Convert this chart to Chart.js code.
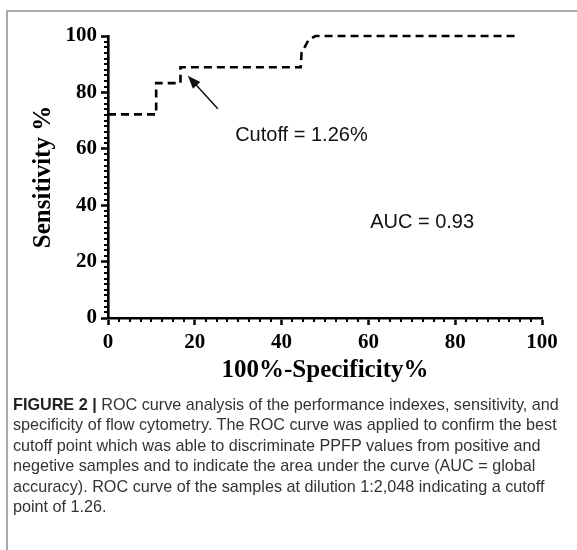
<!DOCTYPE html>
<html>
<head>
<meta charset="utf-8">
<script src="https://cdn.jsdelivr.net/npm/chart.js@4.4.1/dist/chart.umd.min.js"></script>
<style>
    body { margin: 0; background: #fff; width: 577px; height: 550px; overflow: hidden; position: relative; }
    #frame { position: absolute; left: 6px; top: 10px; width: 600px; height: 600px; border: 2px solid #aaa; box-sizing: border-box; }
    #rocChart { position: absolute; left: 0; top: 0; }
    #caption { position: absolute; left: 13px; top: 394px; font-family: 'Liberation Sans', Arial, sans-serif; font-size: 16.2px; line-height: 20.4px; color: #333; white-space: nowrap; }
    #caption b { color: #222; }
</style>
</head>
<body>
<div id="frame"></div>
<canvas id="rocChart" width="577" height="400"></canvas>
<div id="caption">
    <b>FIGURE 2 |</b> ROC curve analysis of the performance indexes, sensitivity, and<br>
    specificity of flow cytometry. The ROC curve was applied to confirm the best<br>
    cutoff point which was able to discriminate PPFP values from positive and<br>
    negetive samples and to indicate the area under the curve (AUC = global<br>
    accuracy). ROC curve of the samples at dilution 1:2,048 indicating a cutoff<br>
    point of 1.26.
</div>
<script>
/* ROC curve data */
const specificityX = [0, 11.1, 11.1, 16.7, 16.7, 44.4, 44.6, 46.2, 47.8, 94.4];
const sensitivityY = [72.2, 72.2, 83.3, 83.3, 88.9, 88.9, 94, 98.6, 100, 100];
const xTicks = [0, 20, 40, 60, 80, 100];
const yTicks = [0, 20, 40, 60, 80, 100];

const serif = "'Liberation Serif', 'Times New Roman', serif";
const sans = "'Liberation Sans', Arial, sans-serif";

/*minor ticks + text notes + arrow*/
const extrasPlugin = {
    id: 'extras',
    afterDraw(chart) {
        const ctx = chart.ctx;
        const x = chart.scales.x, y = chart.scales.y;
        const area = chart.chartArea;

        ctx.save();
        ctx.strokeStyle = '#000';
        ctx.lineWidth = 2;
        ctx.beginPath();
        for (let v = 2.5; v < 100; v += 2.5) {
            if (v % 20 === 0) continue;
            const px = Math.round(x.getPixelForValue(v));
            ctx.moveTo(px, area.bottom);
            ctx.lineTo(px, area.bottom + 4);
        }
        for (let v = 2; v < 100; v += 2) {
            if (v % 20 === 0) continue;
            const py = Math.round(y.getPixelForValue(v));
            ctx.moveTo(area.left - 4, py);
            ctx.lineTo(area.left, py);
        }
        ctx.stroke();

        // labels
        ctx.fillStyle = '#111';
        ctx.font = '20px ' + sans;
        ctx.textBaseline = 'middle';
        ctx.textAlign = 'left';
        ctx.fillText('Cutoff = 1.26%', x.getPixelForValue(29.3), y.getPixelForValue(64.7));
        ctx.fillText('AUC = 0.93', x.getPixelForValue(60.4), y.getPixelForValue(33.9));

        // arrow
        const tx = x.getPixelForValue(25.3), ty = y.getPixelForValue(74.2);
        const hx = x.getPixelForValue(18.4), hy = y.getPixelForValue(85.9);
        const ang = Math.atan2(hy - ty, hx - tx);
        ctx.strokeStyle = '#111';
        ctx.lineWidth = 1.5;
        ctx.beginPath();
        ctx.moveTo(tx, ty);
        ctx.lineTo(hx - 8 * Math.cos(ang), hy - 8 * Math.sin(ang));
        ctx.stroke();
        ctx.beginPath();
        ctx.moveTo(hx, hy);
        ctx.lineTo(hx - 13 * Math.cos(ang) + 5 * Math.sin(ang), hy - 13 * Math.sin(ang) - 5 * Math.cos(ang));
        ctx.lineTo(hx - 13 * Math.cos(ang) - 5 * Math.sin(ang), hy - 13 * Math.sin(ang) + 5 * Math.cos(ang));
        ctx.closePath();
        ctx.fill();
        ctx.restore();
    }
};

new Chart(document.getElementById('rocChart'), {
    type: 'line',
    data: {
        datasets: [{
            data: specificityX.map((v, i) => ({x: v, y: sensitivityY[i]})),
            borderColor: '#000',
            borderWidth: 2.6,
            borderDash: [8, 5],
            pointRadius: 0,
            fill: false,
            tension: 0,
            clip: 8
        }]
    },
    options: {
        responsive: false,
        animation: false,
        devicePixelRatio: 1,
        layout: { padding: { left: 0, right: 35, top: 36, bottom: 0 } },
        plugins: { legend: { display: false }, tooltip: { enabled: false } },
        scales: {
            x: {
                type: 'linear',
                min: 0,
                max: 100,
                afterBuildTicks: (s) => { s.ticks = xTicks.map(v => ({value: v})); },
                afterFit: (s) => { s.height = 82; },
                ticks: { color: '#000', padding: 5, font: { family: serif, size: 21, weight: 'bold' } },
                grid: { drawOnChartArea: false, tickLength: 7, tickWidth: 2.5, tickColor: '#000' },
                border: { display: true, color: '#000', width: 2.6 },
                title: {
                    display: true,
                    text: '100%-Specificity%',
                    color: '#000',
                    padding: { top: 0, bottom: 14 },
                    font: { family: serif, size: 25, weight: 'bold' }
                }
            },
            y: {
                type: 'linear',
                min: 0,
                max: 100,
                afterBuildTicks: (s) => { s.ticks = yTicks.map(v => ({value: v})); },
                afterFit: (s) => { s.width = 108; },
                ticks: { color: '#000', padding: 4, font: { family: serif, size: 21, weight: 'bold' } },
                grid: { drawOnChartArea: false, tickLength: 7, tickWidth: 2.5, tickColor: '#000' },
                border: { display: true, color: '#000', width: 2.6 },
                title: {
                    display: true,
                    text: 'Sensitivity %',
                    color: '#000',
                    padding: { top: 29, bottom: 0 },
                    font: { family: serif, size: 25, weight: 'bold' }
                }
            }
        }
    },
    plugins: [extrasPlugin]
});
</script>
</body>
</html>
